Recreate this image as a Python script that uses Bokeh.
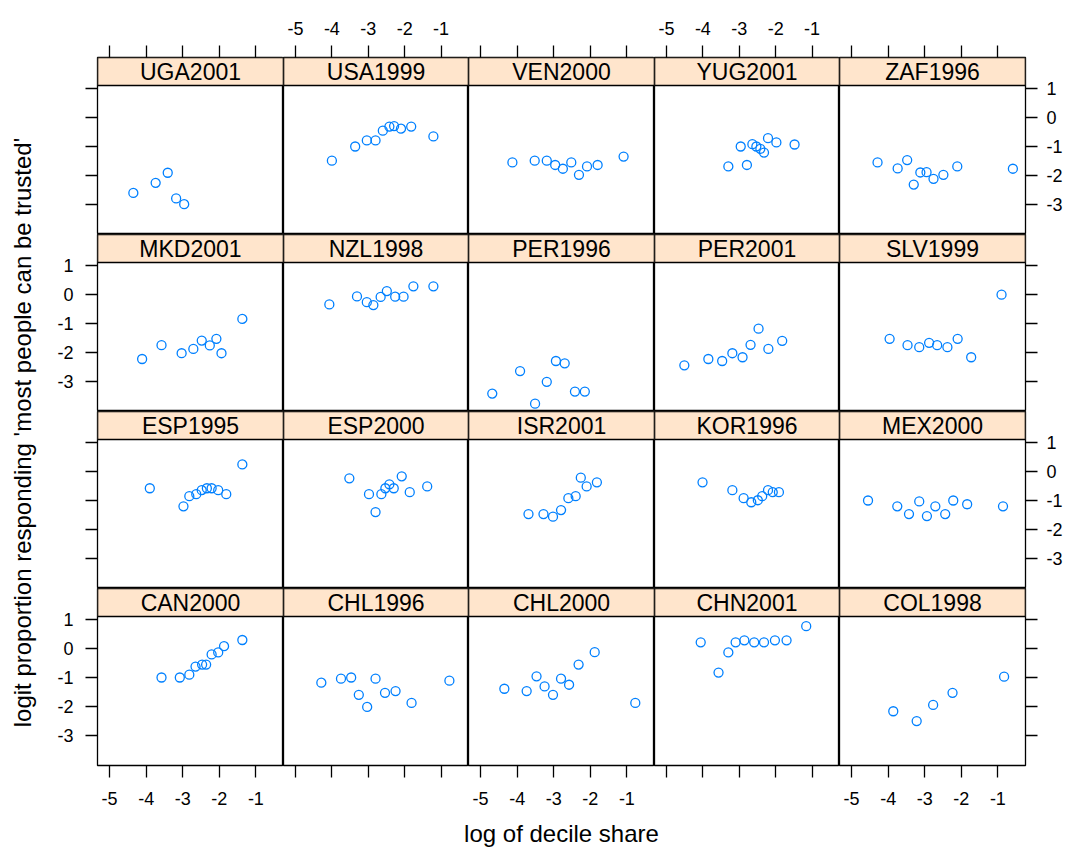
import math
from bokeh.plotting import figure
from bokeh.layouts import row, column
from bokeh.models import Range1d, FixedTicker, LinearAxis, BoxAnnotation
from bokeh.embed import file_html
from bokeh.resources import INLINE
from bokeh.core.properties import value

# ---------------- data ----------------
panel_names = ["UGA2001", "USA1999", "VEN2000", "YUG2001", "ZAF1996",
               "MKD2001", "NZL1998", "PER1996", "PER2001", "SLV1999",
               "ESP1995", "ESP2000", "ISR2001", "KOR1996", "MEX2000",
               "CAN2000", "CHL1996", "CHL2000", "CHN2001", "COL1998"]

uga2001_x = [-4.35, -3.74, -3.41, -3.18, -2.96]
uga2001_y = [-2.61, -2.26, -1.91, -2.80, -3.00]
usa1999_x = [-4.00, -3.36, -3.04, -2.80, -2.60, -2.42, -2.29, -2.10, -1.82, -1.21]
usa1999_y = [-1.49, -1.00, -0.79, -0.79, -0.45, -0.31, -0.29, -0.38, -0.31, -0.65]
ven2000_x = [-4.13, -3.52, -3.19, -2.96, -2.75, -2.52, -2.31, -2.09, -1.80, -1.09]
ven2000_y = [-1.55, -1.49, -1.49, -1.64, -1.77, -1.55, -1.98, -1.69, -1.64, -1.35]
yug2001_x = [-3.30, -2.96, -2.79, -2.64, -2.53, -2.42, -2.32, -2.21, -1.98, -1.48]
yug2001_y = [-1.69, -1.00, -1.64, -0.92, -1.00, -1.08, -1.21, -0.71, -0.86, -0.93]
zaf1996_x = [-4.29, -3.74, -3.48, -3.30, -3.12, -2.95, -2.76, -2.49, -2.11, -0.59]
zaf1996_y = [-1.55, -1.76, -1.47, -2.32, -1.90, -1.89, -2.12, -1.98, -1.69, -1.77]

mkd2001_x = [-4.11, -3.58, -3.03, -2.71, -2.48, -2.26, -2.08, -1.94, -1.37]
mkd2001_y = [-2.23, -1.75, -2.03, -1.88, -1.59, -1.76, -1.53, -2.03, -0.84]
nzl1998_x = [-4.07, -3.31, -3.04, -2.86, -2.66, -2.49, -2.26, -2.03, -1.76, -1.21]
nzl1998_y = [-0.34, -0.06, -0.26, -0.36, -0.08, 0.125, -0.07, -0.07, 0.29, 0.29]
per1996_x = [-4.68, -3.92, -3.51, -3.19, -2.94, -2.70, -2.42, -2.15]
per1996_y = [-3.43, -2.65, -3.78, -3.02, -2.30, -2.38, -3.36, -3.36]
per2001_x = [-4.51, -3.85, -3.47, -3.19, -2.91, -2.69, -2.47, -2.20, -1.82]
per2001_y = [-2.45, -2.23, -2.30, -2.03, -2.17, -1.74, -1.18, -1.88, -1.60]
slv1999_x = [-3.96, -3.47, -3.15, -2.88, -2.66, -2.38, -2.10, -1.73, -0.90]
slv1999_y = [-1.53, -1.75, -1.82, -1.67, -1.75, -1.82, -1.53, -2.17, 0.00]

esp1995_x = [-3.90, -2.98, -2.82, -2.63, -2.48, -2.34, -2.21, -2.03, -1.81, -1.37]
esp1995_y = [-0.575, -1.20, -0.85, -0.78, -0.64, -0.575, -0.575, -0.64, -0.78, 0.25]
esp2000_x = [-3.52, -2.98, -2.80, -2.64, -2.53, -2.42, -2.30, -2.08, -1.86, -1.38]
esp2000_y = [-0.23, -0.78, -1.40, -0.78, -0.575, -0.44, -0.575, -0.16, -0.71, -0.51]
isr2001_x = [-3.69, -3.28, -3.02, -2.80, -2.60, -2.40, -2.26, -2.10, -1.82]
isr2001_y = [-1.47, -1.47, -1.56, -1.33, -0.92, -0.85, -0.21, -0.51, -0.37]
kor1996_x = [-4.01, -3.19, -2.88, -2.67, -2.49, -2.37, -2.21, -2.08, -1.91]
kor1996_y = [-0.37, -0.64, -0.92, -1.06, -0.99, -0.85, -0.64, -0.71, -0.71]
mex2000_x = [-4.55, -3.75, -3.43, -3.15, -2.94, -2.71, -2.44, -2.22, -1.84, -0.86]
mex2000_y = [-1.00, -1.20, -1.47, -1.03, -1.54, -1.20, -1.47, -1.00, -1.13, -1.20]

can2000_x = [-3.58, -3.08, -2.82, -2.65, -2.47, -2.36, -2.21, -2.03, -1.87, -1.37]
can2000_y = [-1.00, -1.00, -0.90, -0.62, -0.55, -0.55, -0.20, -0.13, 0.085, 0.30]
chl1996_x = [-4.29, -3.75, -3.47, -3.26, -3.03, -2.80, -2.54, -2.25, -1.81, -0.77]
chl1996_y = [-1.18, -1.04, -1.00, -1.60, -2.02, -1.04, -1.53, -1.47, -1.88, -1.11]
chl2000_x = [-4.35, -3.74, -3.47, -3.25, -3.02, -2.80, -2.58, -2.32, -1.88, -0.77]
chl2000_y = [-1.39, -1.47, -0.96, -1.31, -1.60, -1.04, -1.25, -0.55, -0.12, -1.88]
chn2001_x = [-4.06, -3.57, -3.30, -3.10, -2.86, -2.59, -2.32, -2.02, -1.70, -1.16]
chn2001_y = [0.22, -0.83, -0.13, 0.22, 0.29, 0.22, 0.22, 0.29, 0.29, 0.78]
col1998_x = [-3.86, -3.22, -2.77, -2.24, -0.83]
col1998_y = [-2.17, -2.51, -1.95, -1.53, -0.97]

x_ticks = [-5, -4, -3, -2, -1]
y_ticks = [1, 0, -1, -2, -3]
x_label = "log of decile share"
y_label = "logit proportion responding 'most people can be trusted'"

series = {
    "UGA2001": (uga2001_x, uga2001_y), "USA1999": (usa1999_x, usa1999_y),
    "VEN2000": (ven2000_x, ven2000_y), "YUG2001": (yug2001_x, yug2001_y),
    "ZAF1996": (zaf1996_x, zaf1996_y), "MKD2001": (mkd2001_x, mkd2001_y),
    "NZL1998": (nzl1998_x, nzl1998_y), "PER1996": (per1996_x, per1996_y),
    "PER2001": (per2001_x, per2001_y), "SLV1999": (slv1999_x, slv1999_y),
    "ESP1995": (esp1995_x, esp1995_y), "ESP2000": (esp2000_x, esp2000_y),
    "ISR2001": (isr2001_x, isr2001_y), "KOR1996": (kor1996_x, kor1996_y),
    "MEX2000": (mex2000_x, mex2000_y), "CAN2000": (can2000_x, can2000_y),
    "CHL1996": (chl1996_x, chl1996_y), "CHL2000": (chl2000_x, chl2000_y),
    "CHN2001": (chn2001_x, chn2001_y), "COL1998": (col1998_x, col1998_y),
}

# ---------------- layout / style ----------------
FONT = "Liberation Sans"
X_START, X_END = -5.33, -0.245
Y_START, Y_END = -4.05, 1.115
COL_W = [186, 185, 186, 185, 186]
STRIP_H = 28
PANEL_H = 149
FRAME_H = STRIP_H + PANEL_H
Y_TOP = Y_END + STRIP_H * (Y_END - Y_START) / PANEL_H
YLAB_W = 40
LEFT_B = 57
RIGHT_B = 40
TOP_B = 57
BOTTOM_B = 50
XLAB_H = 35
NCOL, NROW = 5, 4
GRID_H = TOP_B + NROW * FRAME_H + BOTTOM_B
TOTAL_W = YLAB_W + LEFT_B + sum(COL_W) + RIGHT_B
STRIP_BG = "#FFE5CC"
POINT_COLOR = "#0080FF"
EDGE = "black"


def make_axis(ticks, show_labels, standoff):
    ax = LinearAxis(ticker=FixedTicker(ticks=ticks))
    ax.axis_line_color = None
    ax.major_tick_in = 0
    ax.major_tick_out = 12
    ax.major_tick_line_color = EDGE
    ax.major_tick_line_width = 1.3
    ax.minor_tick_line_color = None
    ax.major_label_text_font = FONT
    ax.major_label_text_font_size = "18px"
    ax.major_label_text_color = "black"
    ax.major_label_standoff = standoff
    if show_labels:
        ax.major_label_overrides = {t: str(t) for t in ticks}
    else:
        ax.major_label_overrides = {t: "" for t in ticks}
    return ax


columns = [[] for _ in range(NCOL)]
for r in range(NROW):
    for c in range(NCOL):
        name = panel_names[r * NCOL + c]
        xs, ys = series[name]
        p = figure(frame_width=COL_W[c], frame_height=FRAME_H,
                   x_range=Range1d(X_START, X_END),
                   y_range=Range1d(Y_START, Y_TOP),
                   output_backend="svg", toolbar_location=None,
                   x_axis_location=None, y_axis_location=None,
                   min_border_left=LEFT_B if c == 0 else 0,
                   min_border_right=RIGHT_B if c == NCOL - 1 else 0,
                   min_border_top=TOP_B if r == 0 else 0,
                   min_border_bottom=BOTTOM_B if r == NROW - 1 else 0)
        p.grid.visible = False
        p.outline_line_color = EDGE
        p.outline_line_width = 1.3
        p.outline_line_alpha = 1.0
        p.border_fill_color = "white"
        p.background_fill_color = "white"

        # strip (panel header)
        p.add_layout(BoxAnnotation(bottom=Y_END, top=Y_TOP, left=X_START, right=X_END,
                                   fill_color=STRIP_BG, fill_alpha=1.0,
                                   line_color=EDGE, line_alpha=1.0, line_width=1.6,
                                   level="underlay"))
        p.text(x=[(X_START + X_END) / 2], y=[(Y_END + Y_TOP) / 2], text=[name],
               text_font=value(FONT), text_font_size="23px",
               text_align="center", text_baseline="middle", text_color="black")

        p.scatter(xs, ys, marker="circle", size=9, fill_color=None,
                  line_color=POINT_COLOR, line_width=1.3)

        if r == 0:
            p.add_layout(make_axis(x_ticks, c % 2 == 1, 11), "above")
        if r == NROW - 1:
            p.add_layout(make_axis(x_ticks, c % 2 == 0, 14), "below")
        if c == 0:
            p.add_layout(make_axis(y_ticks, r % 2 == 1, 12), "left")
        if c == NCOL - 1:
            p.add_layout(make_axis(y_ticks, r % 2 == 0, 9), "right")
        columns[c].append(p)

# y label
yl = figure(width=YLAB_W, height=GRID_H, x_range=Range1d(0, YLAB_W),
            y_range=Range1d(0, GRID_H), output_backend="svg",
            toolbar_location=None, x_axis_location=None, y_axis_location=None,
            min_border=0)
yl.grid.visible = False
yl.outline_line_color = None
yl.text(x=[22], y=[GRID_H - 432], text=[y_label], angle=math.pi / 2,
        text_font=value(FONT), text_font_size="24px", text_align="center",
        text_baseline="middle", text_color="black")

# x label
xl = figure(width=TOTAL_W, height=XLAB_H, x_range=Range1d(0, TOTAL_W),
            y_range=Range1d(0, XLAB_H), output_backend="svg",
            toolbar_location=None, x_axis_location=None, y_axis_location=None,
            min_border=0)
xl.grid.visible = False
xl.outline_line_color = None
xl.text(x=[561], y=[XLAB_H - 18], text=[x_label],
        text_font=value(FONT), text_font_size="24px", text_align="center",
        text_baseline="middle", text_color="black")

layout = column(row(yl, *[column(*col) for col in columns]), xl)

open("out.html", "w").write(file_html(layout, INLINE))
